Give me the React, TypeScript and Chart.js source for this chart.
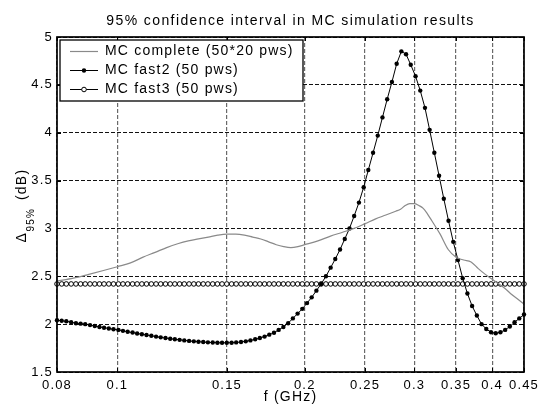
import React, { useEffect, useRef } from 'react';
import { Chart, registerables } from 'chart.js';

Chart.register(...registerables);

// Frequency grid (GHz) of the two "fast" MC runs
const freq = [
  0.0800, 0.0814, 0.0828, 0.0843, 0.0858, 0.0873, 0.0888, 0.0904, 0.0920, 0.0936,
  0.0952, 0.0969, 0.0986, 0.1004, 0.1021, 0.1039, 0.1058, 0.1076, 0.1095, 0.1114,
  0.1134, 0.1154, 0.1174, 0.1195, 0.1216, 0.1237, 0.1259, 0.1281, 0.1304, 0.1327,
  0.1350, 0.1374, 0.1398, 0.1423, 0.1448, 0.1473, 0.1499, 0.1526, 0.1552, 0.1580,
  0.1608, 0.1636, 0.1665, 0.1694, 0.1724, 0.1754, 0.1785, 0.1816, 0.1848, 0.1881,
  0.1914, 0.1948, 0.1982, 0.2017, 0.2052, 0.2088, 0.2125, 0.2163, 0.2201, 0.2239,
  0.2279, 0.2319, 0.2360, 0.2401, 0.2444, 0.2487, 0.2530, 0.2575, 0.2620, 0.2666,
  0.2713, 0.2761, 0.2810, 0.2859, 0.2909, 0.2960, 0.3013, 0.3066, 0.3120, 0.3174,
  0.3230, 0.3287, 0.3345, 0.3404, 0.3464, 0.3525, 0.3587, 0.3650, 0.3714, 0.3780,
  0.3846, 0.3914, 0.3983, 0.4053, 0.4124, 0.4197, 0.4270, 0.4346, 0.4422, 0.4500,
];

const fast2 = [
  2.04, 2.035, 2.03, 2.02, 2.01, 2.005, 2.0, 1.99, 1.98, 1.97,
  1.963, 1.955, 1.947, 1.94, 1.93, 1.92, 1.912, 1.903, 1.895, 1.887,
  1.878, 1.87, 1.862, 1.855, 1.848, 1.842, 1.836, 1.83, 1.825, 1.82,
  1.816, 1.813, 1.81, 1.808, 1.806, 1.805, 1.805, 1.806, 1.809, 1.814,
  1.82, 1.83, 1.842, 1.855, 1.87, 1.89, 1.91, 1.94, 1.97, 2.01,
  2.06, 2.11, 2.16, 2.22, 2.28, 2.35, 2.42, 2.5, 2.59, 2.68,
  2.78, 2.89, 3.0, 3.13, 3.27, 3.43, 3.61, 3.79, 3.97, 4.16,
  4.35, 4.53, 4.72, 4.85, 4.82, 4.71, 4.59, 4.44, 4.26, 4.03,
  3.79, 3.55, 3.31, 3.08, 2.86, 2.67, 2.48, 2.32, 2.19, 2.09,
  2.0, 1.95, 1.915, 1.905, 1.915, 1.94, 1.975, 2.02, 2.06, 2.1,
];

const fast3 = [
  2.42, 2.42, 2.42, 2.42, 2.42, 2.42, 2.42, 2.42, 2.42, 2.42,
  2.42, 2.42, 2.42, 2.42, 2.42, 2.42, 2.42, 2.42, 2.42, 2.42,
  2.42, 2.42, 2.42, 2.42, 2.42, 2.42, 2.42, 2.42, 2.42, 2.42,
  2.42, 2.42, 2.42, 2.42, 2.42, 2.42, 2.42, 2.42, 2.42, 2.42,
  2.42, 2.42, 2.42, 2.42, 2.42, 2.42, 2.42, 2.42, 2.42, 2.42,
  2.42, 2.42, 2.42, 2.42, 2.42, 2.42, 2.42, 2.42, 2.42, 2.42,
  2.42, 2.42, 2.42, 2.42, 2.42, 2.42, 2.42, 2.42, 2.42, 2.42,
  2.42, 2.42, 2.42, 2.42, 2.42, 2.42, 2.42, 2.42, 2.42, 2.42,
  2.42, 2.42, 2.42, 2.42, 2.42, 2.42, 2.42, 2.42, 2.42, 2.42,
  2.42, 2.42, 2.42, 2.42, 2.42, 2.42, 2.42, 2.42, 2.42, 2.42,
];

// Complete MC run (no markers)
const freqGray = [
  0.08, 0.085, 0.09, 0.095, 0.1, 0.105, 0.11, 0.115, 0.12, 0.125,
  0.13, 0.135, 0.14, 0.145, 0.15, 0.155, 0.16, 0.165, 0.17, 0.175,
  0.18, 0.185, 0.19, 0.195, 0.2, 0.21, 0.22, 0.23, 0.24, 0.25,
  0.26, 0.27, 0.28, 0.285, 0.29, 0.295, 0.3, 0.305, 0.31, 0.315,
  0.32, 0.33, 0.34, 0.35, 0.36, 0.37, 0.38, 0.39, 0.4, 0.41,
  0.42, 0.43, 0.44, 0.45,
];
const mcComplete = [
  2.45, 2.48, 2.52, 2.56, 2.6, 2.64, 2.7, 2.75, 2.8, 2.84,
  2.87, 2.89, 2.91, 2.93, 2.94, 2.94, 2.93, 2.91, 2.89, 2.86,
  2.83, 2.81, 2.8, 2.81, 2.83, 2.87, 2.92, 2.96, 3.0, 3.05,
  3.1, 3.14, 3.18, 3.2, 3.24, 3.26, 3.26, 3.24, 3.21, 3.15,
  3.08, 2.94, 2.78, 2.7, 2.67, 2.65, 2.58, 2.52, 2.47, 2.42,
  2.37, 2.31, 2.26, 2.21,
];

const xTicks = [0.08, 0.1, 0.15, 0.2, 0.25, 0.3, 0.35, 0.4, 0.45];
const xTickLabels = ['0.08', '0.1', '0.15', '0.2', '0.25', '0.3', '0.35', '0.4', '0.45'];
const yTicks = [1.5, 2, 2.5, 3, 3.5, 4, 4.5, 5];
const yTickLabels = ['1.5', '2', '2.5', '3', '3.5', '4', '4.5', '5'];

const titleText = '95% confidence interval in MC simulation results';
const xLabelText = 'f (GHz)';
const yLabelMain = 'Δ';
const yLabelSub = '95%';
const yLabelUnit = '(dB)';
const legendLabels = ['MC complete (50*20 pws)', 'MC fast2 (50 pws)', 'MC fast3 (50 pws)'];

const FONT = '"Liberation Sans", Arial, Helvetica, sans-serif';
const GRAY = '#8a8a8a';

const decor = {
  id: 'decor',
  beforeDraw(chart: any) {
    const ctx = chart.ctx;
    ctx.save();
    ctx.fillStyle = '#ffffff';
    ctx.fillRect(0, 0, chart.width, chart.height);
    ctx.restore();
    ctx.letterSpacing = '1.2px';
  },
  afterDatasetsDraw(chart: any) {
    const ctx = chart.ctx;
    const a = chart.chartArea;
    const xs = chart.scales.x;
    const ys = chart.scales.y;
    ctx.save();
    ctx.setLineDash([]);

    // inward tick marks on all four sides
    ctx.strokeStyle = '#000';
    ctx.lineWidth = 1;
    const tl = 4;
    ctx.beginPath();
    xTicks.forEach((v) => {
      const px = Math.round(xs.getPixelForValue(v)) + 0.5;
      ctx.moveTo(px, a.bottom); ctx.lineTo(px, a.bottom - tl);
      ctx.moveTo(px, a.top); ctx.lineTo(px, a.top + tl);
    });
    yTicks.forEach((v) => {
      const py = Math.round(ys.getPixelForValue(v)) + 0.5;
      ctx.moveTo(a.left, py); ctx.lineTo(a.left + tl, py);
      ctx.moveTo(a.right, py); ctx.lineTo(a.right - tl, py);
    });
    ctx.stroke();

    // axes frame
    ctx.lineWidth = 1.7;
    ctx.strokeRect(a.left, a.top, a.right - a.left, a.bottom - a.top);

    // legend box
    const lx = 60, ly = 40, lw = 243, lh = 61;
    ctx.fillStyle = '#fff';
    ctx.fillRect(lx, ly, lw, lh);
    ctx.lineWidth = 1.3;
    ctx.strokeRect(lx, ly, lw, lh);
    const rows = [51.5, 70.5, 89.5];
    const sx0 = 70, sx1 = 98, sm = 84;
    ctx.strokeStyle = GRAY;
    ctx.lineWidth = 1.2;
    ctx.beginPath(); ctx.moveTo(sx0, rows[0]); ctx.lineTo(sx1, rows[0]); ctx.stroke();
    ctx.strokeStyle = '#000';
    ctx.lineWidth = 1;
    ctx.beginPath(); ctx.moveTo(sx0, rows[1]); ctx.lineTo(sx1, rows[1]); ctx.stroke();
    ctx.fillStyle = '#000';
    ctx.beginPath(); ctx.arc(sm, rows[1], 2.2, 0, Math.PI * 2); ctx.fill();
    ctx.beginPath(); ctx.moveTo(sx0, rows[2]); ctx.lineTo(sx1, rows[2]); ctx.stroke();
    ctx.fillStyle = '#fff';
    ctx.beginPath(); ctx.arc(sm, rows[2], 2.3, 0, Math.PI * 2); ctx.fill(); ctx.stroke();

    ctx.fillStyle = '#000';
    ctx.font = '14px ' + FONT;
    ctx.textAlign = 'left';
    ctx.textBaseline = 'middle';
    legendLabels.forEach((t, i) => ctx.fillText(t, 105, rows[i]));

    // title
    ctx.textAlign = 'center';
    ctx.textBaseline = 'alphabetic';
    ctx.font = '14px ' + FONT;
    ctx.letterSpacing = '1.4px';
    ctx.fillText(titleText, (a.left + a.right) / 2, 25);
    ctx.letterSpacing = '1.2px';

    // x label
    ctx.fillText(xLabelText, (a.left + a.right) / 2, 401);

    // y label (rotated, with subscript)
    ctx.translate(26, 242.5);
    ctx.rotate(-Math.PI / 2);
    ctx.textAlign = 'left';
    ctx.font = '14px ' + FONT;
    ctx.fillText(yLabelMain, 0, 0);
    ctx.font = '10px ' + FONT;
    ctx.fillText(yLabelSub, 11, 7.5);
    ctx.font = '14px ' + FONT;
    ctx.fillText(yLabelUnit, 42.5, 0);
    ctx.restore();
  },
};

export default function App() {
  const ref = useRef<HTMLCanvasElement | null>(null);

  useEffect(() => {
    if (!ref.current) return;
    const chart = new Chart(ref.current, {
      type: 'line',
      data: {
        datasets: [
          {
            label: legendLabels[0],
            data: freqGray.map((f, i) => ({ x: f, y: mcComplete[i] })),
            borderColor: GRAY,
            borderWidth: 1.2,
            pointRadius: 0,
            cubicInterpolationMode: 'monotone',
            clip: false as any,
          },
          {
            label: legendLabels[1],
            data: freq.map((f, i) => ({ x: f, y: fast2[i] })),
            borderColor: '#000',
            borderWidth: 1,
            pointRadius: 2.2,
            pointBackgroundColor: '#000',
            pointBorderColor: '#000',
            pointBorderWidth: 0,
            tension: 0,
            clip: false as any,
          },
          {
            label: legendLabels[2],
            data: freq.map((f, i) => ({ x: f, y: fast3[i] })),
            borderColor: '#000',
            borderWidth: 1,
            pointRadius: 2.3,
            pointBackgroundColor: '#fff',
            pointBorderColor: '#000',
            pointBorderWidth: 1,
            tension: 0,
            clip: false as any,
          },
        ],
      },
      options: {
        animation: false,
        responsive: false,
        devicePixelRatio: 1,
        layout: { padding: { left: 0, right: 25, top: 37, bottom: 0 } },
        plugins: {
          legend: { display: false },
          title: { display: false },
          tooltip: { enabled: false },
        },
        scales: {
          x: {
            type: 'logarithmic',
            min: 0.08,
            max: 0.45,
            afterBuildTicks: (s: any) => {
              s.ticks = xTicks.map((v) => ({ value: v }));
            },
            afterFit: (s: any) => {
              s.height = 36;
            },
            ticks: {
              autoSkip: false,
              maxRotation: 0,
              minRotation: 0,
              padding: 6,
              color: '#000',
              font: { family: FONT, size: 13 },
              callback: (v: any) => {
                const k = xTicks.indexOf(Number(v));
                return k >= 0 ? xTickLabels[k] : '';
              },
            },
            grid: { color: '#6a6a6a', lineWidth: 1.2, drawTicks: false },
            border: { display: false, dash: [4, 2] },
          },
          y: {
            type: 'linear',
            min: 1.5,
            max: 5,
            afterBuildTicks: (s: any) => {
              s.ticks = yTicks.map((v) => ({ value: v }));
            },
            afterFit: (s: any) => {
              s.width = 57;
            },
            ticks: {
              padding: 4,
              color: '#000',
              font: { family: FONT, size: 13 },
              callback: (v: any) => {
                const k = yTicks.indexOf(Number(v));
                return k >= 0 ? yTickLabels[k] : '';
              },
            },
            grid: { color: '#111', lineWidth: 1, drawTicks: false },
            border: { display: false, dash: [4, 2] },
          },
        },
      } as any,
      plugins: [decor],
    });
    return () => chart.destroy();
  }, []);

  return (
    <div style={{ position: 'absolute', left: 0, top: 0, width: 549, height: 408 }}>
      <canvas ref={ref} width={549} height={408} style={{ display: 'block' }} />
    </div>
  );
}
